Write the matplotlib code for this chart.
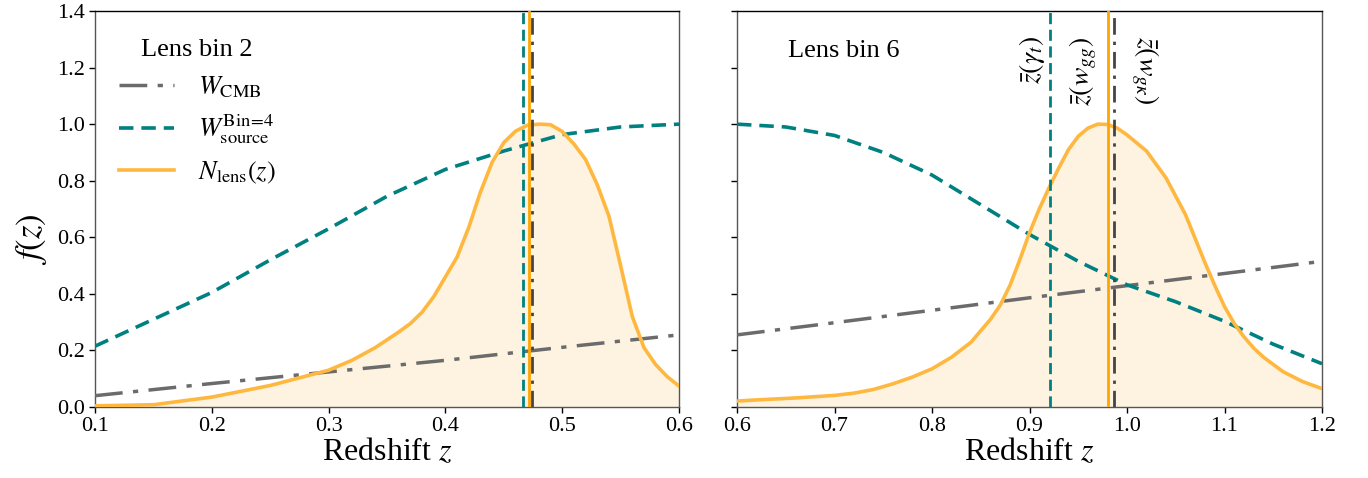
import numpy as np
import matplotlib
matplotlib.use("Agg")
import matplotlib.pyplot as plt

plt.rcParams['font.family'] = ['Liberation Serif', 'DejaVu Serif']
plt.rcParams['mathtext.fontset'] = 'stix'

# ---------------- data: lens bin 2 (left) ----------------
z_l = [0.10, 0.15, 0.20, 0.25, 0.30, 0.32, 0.34, 0.36, 0.37, 0.38, 0.39, 0.40,
       0.41, 0.42, 0.43, 0.44, 0.45, 0.46, 0.47, 0.48, 0.49, 0.50, 0.51, 0.52,
       0.53, 0.54, 0.55, 0.56, 0.57, 0.58, 0.59, 0.60]
nlens_l = [0.004, 0.008, 0.035, 0.076, 0.13, 0.165, 0.21, 0.265, 0.295, 0.335, 0.39, 0.46,
           0.53, 0.635, 0.76, 0.865, 0.935, 0.975, 0.996, 1.0, 0.998, 0.974, 0.93, 0.875,
           0.786, 0.675, 0.50, 0.32, 0.21, 0.15, 0.107, 0.074]
zsrc_l = [0.10, 0.15, 0.20, 0.25, 0.30, 0.35, 0.40, 0.45, 0.50, 0.55, 0.60]
wsrc_l = [0.215, 0.31, 0.405, 0.52, 0.63, 0.745, 0.84, 0.905, 0.963, 0.99, 1.0]
zcmb_l = [0.10, 0.20, 0.30, 0.40, 0.50, 0.60]
wcmb_l = [0.040, 0.083, 0.124, 0.165, 0.211, 0.255]
zbar_l = {'gt': 0.4664, 'wgg': 0.4717, 'wgk': 0.4743}

# ---------------- data: lens bin 6 (right) ----------------
z_r = [0.60, 0.62, 0.66, 0.70, 0.72, 0.74, 0.76, 0.78, 0.80, 0.82, 0.84, 0.86,
       0.87, 0.88, 0.89, 0.90, 0.91, 0.92, 0.93, 0.94, 0.95, 0.96, 0.97, 0.98,
       0.99, 1.00, 1.02, 1.04, 1.06, 1.08, 1.09, 1.10, 1.11, 1.12, 1.13, 1.14,
       1.16, 1.18, 1.20]
nlens_r = [0.021, 0.025, 0.032, 0.041, 0.049, 0.062, 0.082, 0.106, 0.135, 0.176, 0.229, 0.31,
           0.36, 0.43, 0.52, 0.616, 0.70, 0.775, 0.845, 0.91, 0.957, 0.986, 1.0, 0.999,
           0.986, 0.962, 0.905, 0.81, 0.68, 0.51, 0.43, 0.355, 0.295, 0.248, 0.208, 0.176,
           0.125, 0.09, 0.065]
zsrc_r = [0.60, 0.65, 0.70, 0.75, 0.80, 0.85, 0.90, 0.95, 1.00, 1.05, 1.10, 1.15, 1.20]
wsrc_r = [1.0, 0.99, 0.96, 0.90, 0.82, 0.715, 0.61, 0.515, 0.432, 0.372, 0.303, 0.222, 0.153]
zcmb_r = [0.60, 0.70, 0.80, 0.90, 1.00, 1.10, 1.20]
wcmb_r = [0.255, 0.298, 0.342, 0.386, 0.429, 0.472, 0.515]
zbar_r = {'gt': 0.9214, 'wgg': 0.9805, 'wgk': 0.987}

TEAL = '#008080'
GRAY = '#6b6b6b'
ORANGE_L = '#FFB83F'
ORANGE_V = '#FFA500'
FILL = '#FEF3E1'
DARK = '#444444'

fig = plt.figure(figsize=(13.68, 4.78), dpi=100)
axL = fig.add_axes([95/1368, 1-407/478, 584/1368, 396/478])
axR = fig.add_axes([737/1368, 1-407/478, 585/1368, 396/478], sharey=axL)

def panel(ax, z, n, zs, ws, zc, wc, zb, xlim, xticks):
    ax.fill_between(z, 0, n, color=FILL, lw=0, zorder=1)
    l1, = ax.plot(zc, wc, color=GRAY, ls=(0, (8, 3, 1.5, 3)), lw=2.5, zorder=3)
    l2, = ax.plot(zs, ws, color=TEAL, ls=(0, (4, 2.2)), lw=2.6, zorder=3)
    l3, = ax.plot(z, n, color=ORANGE_L, lw=2.6, zorder=4, solid_joinstyle='round')
    ax.axvline(zb['gt'], color=TEAL, ls=(0, (4, 2)), lw=2.0, zorder=5)
    ax.axvline(zb['wgg'], color=ORANGE_V, ls='-', lw=2.0, zorder=5)
    ax.axvline(zb['wgk'], color=DARK, ls=(0, (6, 2.5, 1.2, 2.5)), lw=2.0, zorder=5)
    ax.set_xlim(*xlim)
    ax.set_ylim(0, 1.4)
    ax.set_xticks(xticks)
    ax.set_xticklabels([f'{t:.1f}' for t in xticks])
    ax.tick_params(labelsize=16, length=4, width=1)
    ax.set_xlabel('Redshift $z$', fontsize=23, labelpad=1)
    for s in ax.spines.values():
        s.set_linewidth(1.0)
    ax.spines['top'].set_color('black')
    for k in ('left', 'right', 'bottom'):
        ax.spines[k].set_color('#555555')
    return l1, l2, l3

l1, l2, l3 = panel(axL, z_l, nlens_l, zsrc_l, wsrc_l, zcmb_l, wcmb_l, zbar_l,
                   (0.1, 0.6), [0.1, 0.2, 0.3, 0.4, 0.5, 0.6])
panel(axR, z_r, nlens_r, zsrc_r, wsrc_r, zcmb_r, wcmb_r, zbar_r,
      (0.6, 1.2), [0.6, 0.7, 0.8, 0.9, 1.0, 1.1, 1.2])

axL.set_yticks([0.0, 0.2, 0.4, 0.6, 0.8, 1.0, 1.2, 1.4])
axL.set_yticklabels(['0.0', '0.2', '0.4', '0.6', '0.8', '1.0', '1.2', '1.4'])
axL.set_ylabel('$f(z)$', fontsize=25)
axL.yaxis.set_label_coords(-0.078, 0.424)
axR.tick_params(labelleft=False)

leg = axL.legend([l1, l2, l3],
                 [r'$W_{\rm CMB}$', r'$W_{\rm source}^{\rm Bin\!=\!4}$', r'$N_{\rm lens}(z)$'],
                 title='Lens bin 2', loc='upper left', bbox_to_anchor=(0.0, 0.99),
                 frameon=False, fontsize=19, title_fontsize=19, handlelength=2.1,
                 labelspacing=0.5, handletextpad=0.9)

axR.text(0.652, 1.26, 'Lens bin 6', fontsize=19, va='center', ha='left')
axR.text(zbar_r['gt'] - 0.019, 1.31, r'$\bar{z}(\gamma_t)$', rotation=90,
         fontsize=20, ha='center', va='top')
axR.text(zbar_r['wgg'] - 0.025, 1.31, r'$\bar{z}(w_{gg})$', rotation=90,
         fontsize=20, ha='center', va='top')
axR.text(zbar_r['wgk'] + 0.031, 1.31, r'$\bar{z}(w_{g\kappa})$', rotation=-90,
         fontsize=20, ha='center', va='top')

fig.savefig('out.png', dpi=100)
